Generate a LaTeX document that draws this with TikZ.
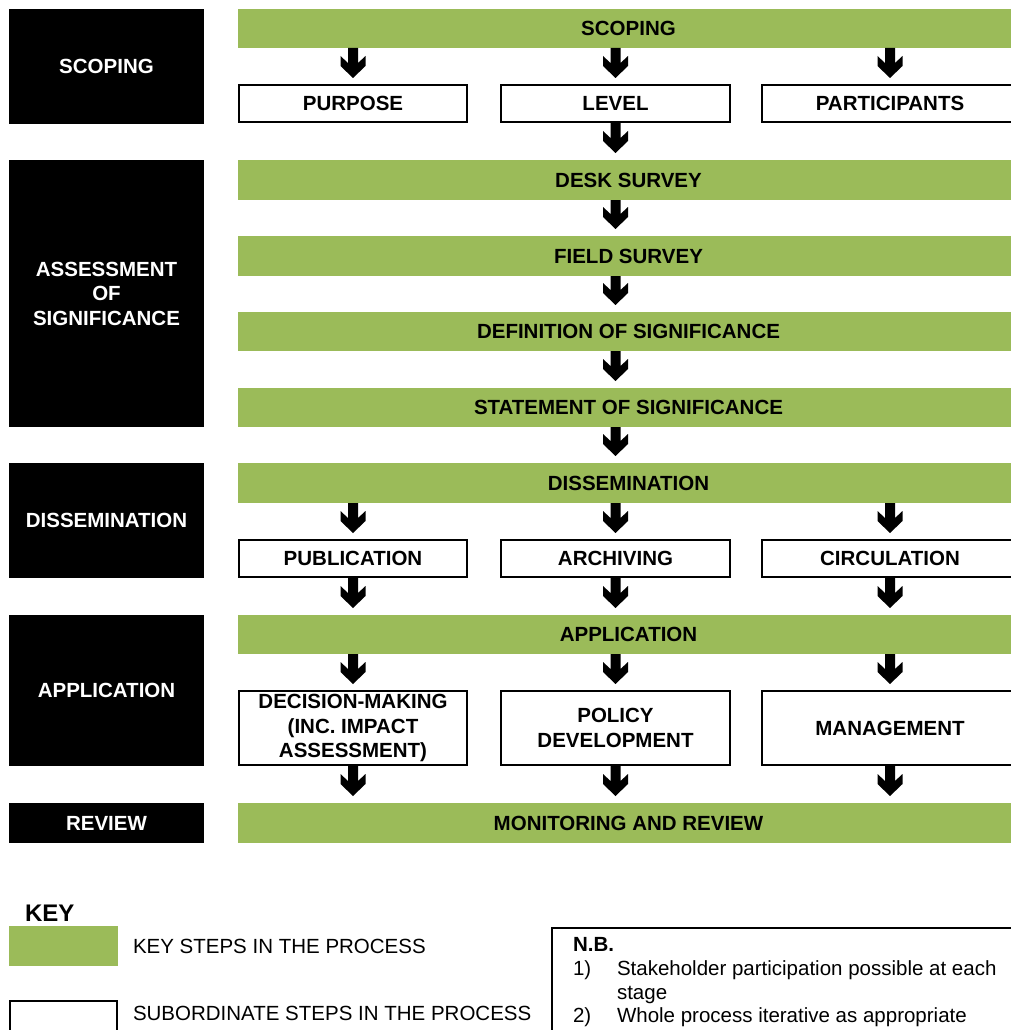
\documentclass[tikz,border=0pt]{standalone}
\usepackage{fontspec}
\setmainfont{Liberation Sans}
\usetikzlibrary{calc}
\definecolor{stepgreen}{RGB}{155,187,89}

% thick down arrow with a chevron head, from a start point to just above a target
\newcommand{\fatarrow}[2]{%
  \fill let \p1=(#1), \p2=(#2) in
    (\x1-5pt,\y1) -- (\x1+5pt,\y1) -- (\x1+5pt,\y2+22pt)
    -- (\x1+12.5pt,\y2+29pt) -- (\x1+12.5pt,\y2+19pt) -- (\x1,\y2+7pt)
    -- (\x1-12.5pt,\y2+19pt) -- (\x1-12.5pt,\y2+29pt) -- (\x1-5pt,\y2+22pt) -- cycle;}

\begin{document}
\begin{tikzpicture}[x=1pt,y=-1pt,
  every node/.style={inner sep=0pt, outer sep=0pt, anchor=north west, align=center},
  lbl/.style={font=\bfseries\fontsize{20.5}{24.5}\selectfont},
  stage/.style={lbl, fill=black, text=white, minimum width=195pt},
  keystep/.style={lbl, fill=stepgreen, minimum width=781pt},
  substep/.style={lbl, draw=black, line width=2pt, fill=white},
  colA/.style={minimum width=228pt},
  colB/.style={minimum width=229pt},
  colC/.style={minimum width=256pt},
  plain/.style={font=\fontsize{20.5}{23.5}\selectfont, anchor=base west, align=left},
]
\useasboundingbox (0,0) rectangle (1011,1030);
\clip (0,0) rectangle (1011,1030);

% stage labels on the left
\node[stage, minimum height=115pt] (sScoping) at (9,9) {SCOPING};
\node[stage, minimum height=267pt] (sAssess) at (9,160) {ASSESSMENT\\OF\\SIGNIFICANCE};
\node[stage, minimum height=115pt] (sDissem) at (9,463) {DISSEMINATION};
\node[stage, minimum height=151pt] (sApply) at (9,615) {APPLICATION};
\node[stage, minimum height=40pt] (sReview) at (9,803) {REVIEW};

% key steps
\node[keystep, minimum height=39pt] (scopebar) at (238,9) {SCOPING};
\node[keystep, minimum height=40pt] (desk) at (238,160) {DESK SURVEY};
\node[keystep, minimum height=40pt] (field) at (238,236) {FIELD SURVEY};
\node[keystep, minimum height=39pt] (defsig) at (238,312) {DEFINITION OF SIGNIFICANCE};
\node[keystep, minimum height=39pt] (stmt) at (238,388) {STATEMENT OF SIGNIFICANCE};
\node[keystep, minimum height=40pt] (dissem) at (238,463) {DISSEMINATION};
\node[keystep, minimum height=39pt] (apply) at (238,615) {APPLICATION};
\node[keystep, minimum height=40pt] (monitor) at (238,803) {MONITORING AND REVIEW};

% subordinate steps
\node[substep, colA, minimum height=37pt] (purpose) at (239,85) {PURPOSE};
\node[substep, colB, minimum height=37pt] (level) at (501,85) {LEVEL};
\node[substep, colC, minimum height=37pt] (particip) at (762,85) {PARTICIPANTS};

\node[substep, colA, minimum height=37pt] (publ) at (239,540) {PUBLICATION};
\node[substep, colB, minimum height=37pt] (archiv) at (501,540) {ARCHIVING};
\node[substep, colC, minimum height=37pt] (circ) at (762,540) {CIRCULATION};

\node[substep, colA, minimum height=74pt] (decision) at (239,691) {DECISION-MAKING\\(INC. IMPACT\\ASSESSMENT)};
\node[substep, colB, minimum height=74pt] (policy) at (501,691) {POLICY\\DEVELOPMENT};
\node[substep, colC, minimum height=74pt] (manage) at (762,691) {MANAGEMENT};

% connectors
\fatarrow{scopebar.south -| purpose}{purpose.north}
\fatarrow{scopebar.south -| level}{level.north}
\fatarrow{scopebar.south -| particip}{particip.north}
\fatarrow{level.south}{desk.north -| level}
\fatarrow{desk.south -| level}{field.north -| level}
\fatarrow{field.south -| level}{defsig.north -| level}
\fatarrow{defsig.south -| level}{stmt.north -| level}
\fatarrow{stmt.south -| level}{dissem.north -| level}
\fatarrow{dissem.south -| publ}{publ.north}
\fatarrow{dissem.south -| archiv}{archiv.north}
\fatarrow{dissem.south -| circ}{circ.north}
\fatarrow{publ.south}{apply.north -| publ}
\fatarrow{archiv.south}{apply.north -| archiv}
\fatarrow{circ.south}{apply.north -| circ}
\fatarrow{apply.south -| decision}{decision.north}
\fatarrow{apply.south -| policy}{policy.north}
\fatarrow{apply.south -| manage}{manage.north}
\fatarrow{decision.south}{monitor.north -| decision}
\fatarrow{policy.south}{monitor.north -| policy}
\fatarrow{manage.south}{monitor.north -| manage}

% key
\node[font=\bfseries\fontsize{24}{28}\selectfont, anchor=base west] (keytitle) at (25,921) {KEY};
\node[fill=stepgreen, minimum width=109pt, minimum height=40pt] (keygreen) at (9,926) {};
\node[plain] (keygreentxt) at (133,953) {KEY STEPS IN THE PROCESS};
\node[draw=black, line width=2pt, minimum width=107pt, minimum height=60pt] (keywhite) at (10,1001) {};
\node[plain] (keywhitetxt) at (133,1020) {SUBORDINATE STEPS IN THE PROCESS};

% notes
\node[draw=black, line width=2pt, minimum width=500pt, minimum height=150pt] (nbbox) at (552,928) {};
\node[plain, font=\bfseries\fontsize{20.5}{23.5}\selectfont] (nbhead) at (573,951) {N.B.};
\node[plain] (nb1) at (573,975) {1)};
\node[plain] (nb1txt) at (617,975) {Stakeholder participation possible at each};
\node[plain] (nb1cont) at (617,999) {stage};
\node[plain] (nb2) at (573,1022) {2)};
\node[plain] (nb2txt) at (617,1022) {Whole process iterative as appropriate};
\end{tikzpicture}
\end{document}
